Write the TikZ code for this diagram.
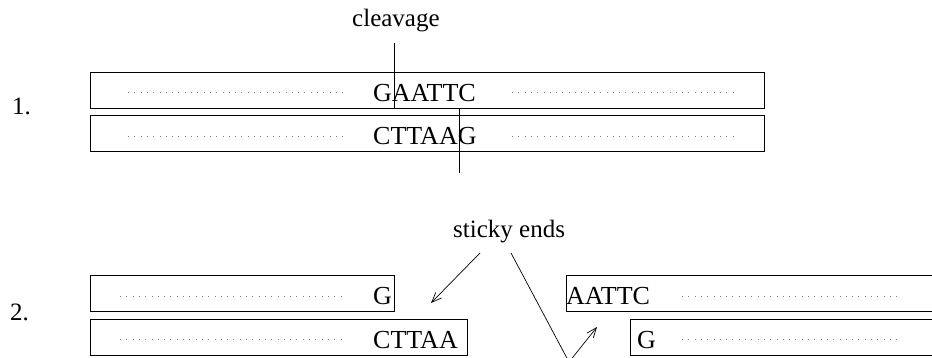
\documentclass[tikz,border=0pt]{standalone}
\usepackage{fontspec}
\setmainfont{Liberation Serif}
\usetikzlibrary{arrows.meta}
\begin{document}
\begin{tikzpicture}[x=1pt,y=-1pt,
  strand/.style={draw,line width=0.9pt,rectangle,inner sep=0pt,anchor=north west},
  dots/.style={draw=gray,line width=1pt,dash pattern=on 1pt off 5.3pt},
  seq/.style={inner sep=0pt,anchor=base west,font=\fontsize{26}{30}\selectfont},
  lbl/.style={inner sep=0pt,anchor=base west,font=\fontsize{25}{30}\selectfont},
  cut/.style={line width=0.9pt},
  arr/.style={line width=0.7pt,-{Straight Barb[length=10pt,width=8pt]}}]
\useasboundingbox (0,0) rectangle (932,358);
\clip (0,0) rectangle (932,358);

% ---- step 1: intact double strand ----
\node[lbl] (n1) at (12,115) {1.};
\node[strand,minimum width=674pt,minimum height=36pt] (top1) at (90,72) {};
\node[strand,minimum width=674pt,minimum height=36pt] (bot1) at (90,115) {};
\draw[dots] (128,93) -- (348,93);
\draw[dots] (512,93) -- (735,93);
\draw[dots] (128,137) -- (348,137);
\draw[dots] (512,137) -- (735,137);
\node[seq] (s1) at (373,102) {GAATTC};
\node[seq] (s2) at (373,145) {CTTAAG};

\node[lbl] (cl) at (352,27) {cleavage};
\coordinate (c0) at (394,43);
\coordinate (c1) at (459,108);
\coordinate (c2) at (459,173);
\draw[cut] (c0) |- (c1) -- (c2);

% ---- step 2: cut fragments with sticky ends ----
\node[lbl] (n2) at (10,320) {2.};
\node[strand,minimum width=304pt,minimum height=36pt] (lt) at (90,275) {};
\node[strand,minimum width=377pt,minimum height=36pt] (lb) at (90,319) {};
\node[strand,minimum width=380pt,minimum height=36pt] (rt) at (566,275) {};
\node[strand,minimum width=320pt,minimum height=36pt] (rb) at (630,319) {};
\draw[dots] (120,296) -- (342,296);
\draw[dots] (120,339) -- (342,339);
\draw[dots] (682,296) -- (902,296);
\draw[dots] (682,339) -- (902,339);
\node[seq] (g1) at (373,305) {G};
\node[seq] (g2) at (373,348) {CTTAA};
\node[seq] (g3) at (566,305) {AATTC};
\node[seq] (g4) at (637,348) {G};

\node[lbl] (se) at (453,238) {sticky ends};
\coordinate (a0) at (480,253);
\coordinate (a1) at (431,303);
\coordinate (b0) at (511,253);
\coordinate (b1) at (569,362);
\coordinate (b2) at (597,327);
\draw[arr] (a0) -- (a1);
\draw[arr] (b0) -- (b1) -- (b2);
\end{tikzpicture}
\end{document}
